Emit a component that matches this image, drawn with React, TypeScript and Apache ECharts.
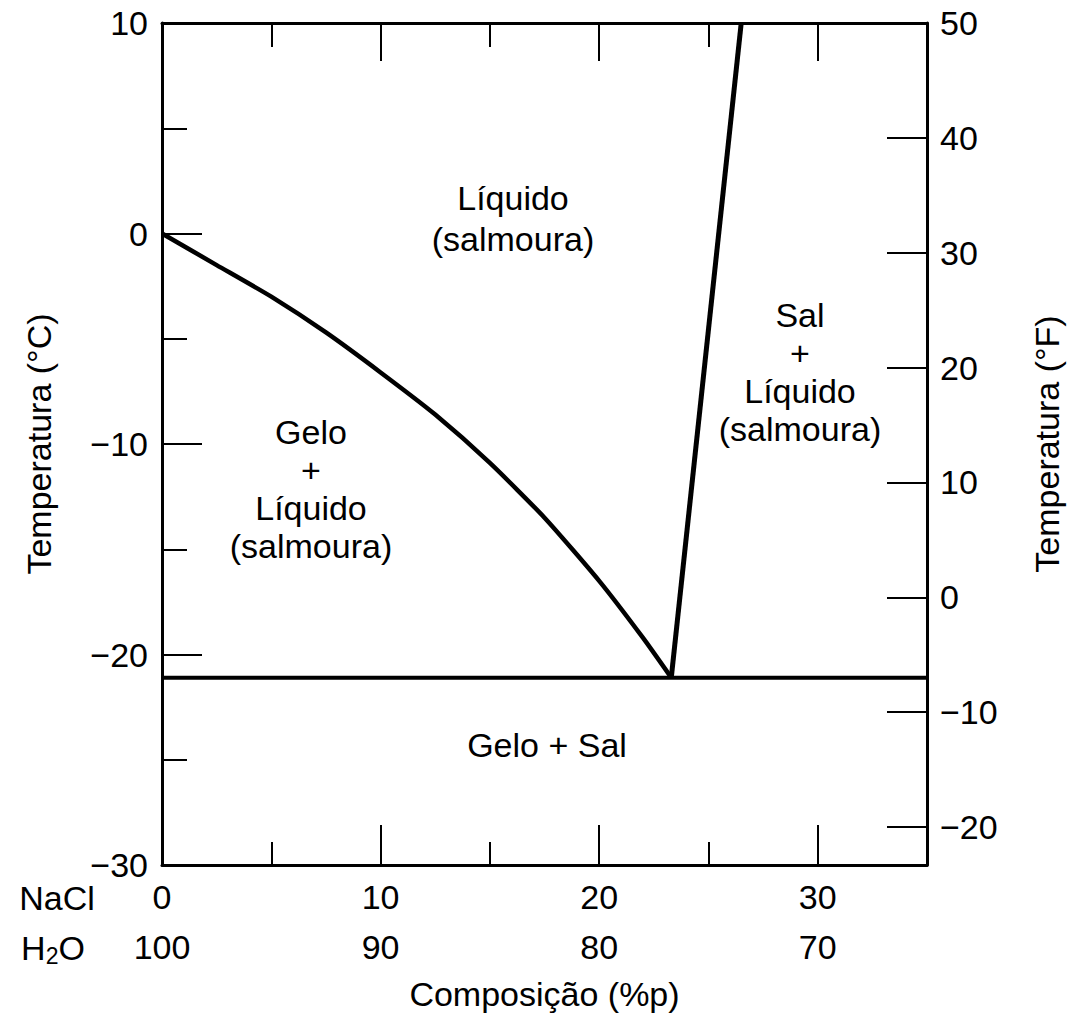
import React, { useEffect, useRef } from "react";
import * as echarts from "echarts";

// ---- data ----
const liquidusNaCl = [0, 2.5, 5, 7.5, 10, 12.5, 15, 17.5, 20, 22, 23.3];
const liquidusTemp = [0, -1.5, -3.0, -4.7, -6.6, -8.6, -10.9, -13.5, -16.5, -19.2, -21.1];
const saltLineNaCl = [23.3, 26.5];
const saltLineTemp = [-21.1, 10];
const eutecticNaCl = [0, 35];
const eutecticTemp = [-21.1, -21.1];

const naclTickLabels = [0, 10, 20, 30];
const h2oTickLabels = [100, 90, 80, 70];
const majorCompTicks = [10, 20, 30];
const minorCompTicks = [5, 15, 25];
const fahrenheitLabels = [-20, -10, 0, 10, 20, 30, 40, 50];
const fahrenheitTicks = [-20, -10, 0, 10, 20, 30, 40];

const FONT = "'Liberation Sans', Arial, Helvetica, sans-serif";
const FS = 34;

const minus = (v: number) => (v < 0 ? "\u2212" + Math.abs(v) : String(v));

export default function App() {
  const ref = useRef<HTMLDivElement>(null);
  useEffect(() => {
    if (!ref.current) return;
    const chart = echarts.init(ref.current, null, { renderer: "svg" });

    const xCommon = {
      type: "value",
      min: 0,
      max: 35,
      splitLine: { show: false },
      axisLabel: { show: false },
    };
    const tickStyle = { color: "#000", width: 2 };
    const textBase = {
      fontSize: FS,
      fontFamily: FONT,
      fill: "#000",
      align: "center",
      verticalAlign: "middle",
    };

    const option: any = {
      animation: false,
      backgroundColor: "#fff",
      textStyle: { fontFamily: FONT, color: "#000" },
      grid: { left: 162, top: 23, width: 768, height: 843 },
      xAxis: [
        {
          ...xCommon,
          position: "bottom",
          axisLine: { show: true, onZero: false, lineStyle: { color: "#000", width: 3 } },
          axisTick: { show: true, inside: true, length: 40, customValues: majorCompTicks, lineStyle: tickStyle },
          axisLabel: {
            show: true,
            customValues: naclTickLabels,
            formatter: (v: number) => {
              const i = naclTickLabels.indexOf(v);
              return `${v}\n${h2oTickLabels[i]}`;
            },
            fontSize: FS,
            lineHeight: 50,
            margin: 7,
            color: "#000",
            fontFamily: FONT,
          },
          name: "Composição (%p)",
          nameLocation: "middle",
          nameGap: 112,
          nameTextStyle: { fontSize: FS, color: "#000", fontFamily: FONT },
        },
        {
          ...xCommon,
          position: "bottom",
          axisLine: { show: false, onZero: false },
          axisTick: { show: true, inside: true, length: 23, customValues: minorCompTicks, lineStyle: tickStyle },
        },
        {
          ...xCommon,
          position: "top",
          axisLine: { show: true, onZero: false, lineStyle: { color: "#000", width: 3 } },
          axisTick: { show: true, inside: true, length: 38, customValues: majorCompTicks, lineStyle: tickStyle },
        },
        {
          ...xCommon,
          position: "top",
          axisLine: { show: false, onZero: false },
          axisTick: { show: true, inside: true, length: 24, customValues: minorCompTicks, lineStyle: tickStyle },
        },
      ],
      yAxis: [
        {
          type: "value",
          position: "left",
          min: -30,
          max: 10,
          interval: 10,
          splitLine: { show: false },
          axisLine: { show: true, onZero: false, lineStyle: { color: "#000", width: 3 } },
          axisTick: { show: true, inside: true, length: 40, lineStyle: tickStyle },
          minorTick: { show: true, splitNumber: 2, length: 25, lineStyle: tickStyle },
          axisLabel: {
            formatter: minus,
            fontSize: FS,
            margin: 14,
            color: "#000",
            fontFamily: FONT,
            showMinLabel: true,
            showMaxLabel: true,
          },
          name: "Temperatura (°C)",
          nameLocation: "middle",
          nameRotate: 90,
          nameGap: 106,
          nameTextStyle: { fontSize: FS, color: "#000", fontFamily: FONT },
        },
        {
          type: "value",
          position: "right",
          min: -23.3,
          max: 50,
          splitLine: { show: false },
          axisLine: { show: true, onZero: false, lineStyle: { color: "#000", width: 3 } },
          axisTick: { show: true, inside: true, length: 40, customValues: fahrenheitTicks, lineStyle: tickStyle },
          axisLabel: {
            customValues: fahrenheitLabels,
            formatter: minus,
            fontSize: FS,
            margin: 13,
            color: "#000",
            fontFamily: FONT,
          },
          name: "Temperatura (°F)",
          nameLocation: "middle",
          nameRotate: 90,
          nameGap: 103,
          nameTextStyle: { fontSize: FS, color: "#000", fontFamily: FONT },
        },
      ],
      series: [
        {
          type: "line",
          name: "liquidus",
          xAxisIndex: 0,
          yAxisIndex: 0,
          data: liquidusNaCl.map((x, i) => [x, liquidusTemp[i]]),
          showSymbol: false,
          smooth: 0.2,
          lineStyle: { color: "#000", width: 4.5 },
          z: 5,
        },
        {
          type: "line",
          name: "salt",
          xAxisIndex: 0,
          yAxisIndex: 0,
          data: saltLineNaCl.map((x, i) => [x, saltLineTemp[i]]),
          showSymbol: false,
          lineStyle: { color: "#000", width: 5 },
          z: 5,
        },
        {
          type: "line",
          name: "eutectic",
          xAxisIndex: 0,
          yAxisIndex: 0,
          data: eutecticNaCl.map((x, i) => [x, eutecticTemp[i]]),
          showSymbol: false,
          lineStyle: { color: "#000", width: 4 },
          z: 5,
        },
      ],
      graphic: [
        {
          type: "text",
          x: 513,
          y: 218,
          style: { ...textBase, text: "Líquido\n(salmoura)", lineHeight: 41 },
        },
        {
          type: "text",
          x: 311,
          y: 489,
          style: { ...textBase, text: "Gelo\n+\nLíquido\n(salmoura)", lineHeight: 38 },
        },
        {
          type: "text",
          x: 800,
          y: 372,
          style: { ...textBase, text: "Sal\n+\nLíquido\n(salmoura)", lineHeight: 38 },
        },
        {
          type: "text",
          x: 547,
          y: 745,
          style: { ...textBase, text: "Gelo + Sal" },
        },
        {
          type: "text",
          x: 57,
          y: 898,
          style: { ...textBase, text: "NaCl" },
        },
        {
          type: "text",
          x: 53,
          y: 948,
          style: {
            ...textBase,
            text: "H{sub|2}O",
            rich: {
              sub: { fontSize: 23, fontFamily: FONT, fill: "#000", padding: [15, 0, 0, 0] },
            },
          },
        },
      ],
    };

    chart.setOption(option);
    return () => chart.dispose();
  }, []);

  return (
    <div
      ref={ref}
      style={{ position: "absolute", left: 0, top: 0, width: 1072, height: 1016 }}
    />
  );
}
